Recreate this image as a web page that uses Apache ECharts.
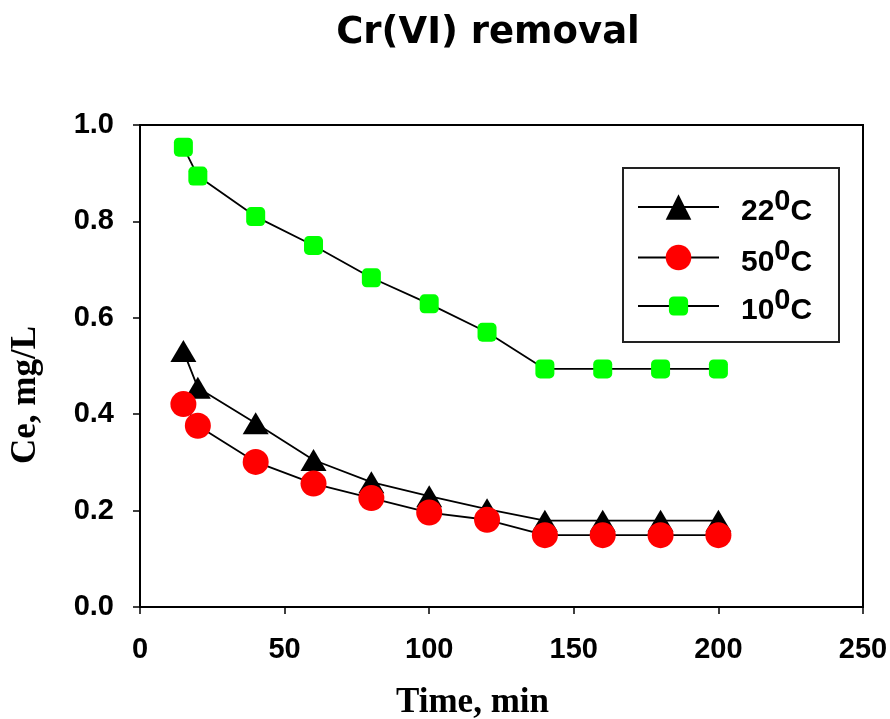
<!DOCTYPE html>
<html>
<head>
<meta charset="utf-8">
<script src="https://cdn.jsdelivr.net/npm/echarts@6/dist/echarts.min.js"></script>
<style>
  html, body { margin: 0; padding: 0; background: #fff; }
  #chart { width: 890px; height: 719px; }
</style>
</head>
<body>
<div id="chart"></div>
<script>
// Contact time (min)
const time = [15, 20, 40, 60, 80, 100, 120, 140, 160, 180, 200];
// Residual Cr(VI) concentration Ce (mg/L) at each temperature
const ce22 = [0.531, 0.455, 0.381, 0.305, 0.259, 0.230, 0.203, 0.179, 0.179, 0.179, 0.179];
const ce50 = [0.421, 0.376, 0.301, 0.256, 0.226, 0.196, 0.181, 0.149, 0.149, 0.149, 0.149];
const ce10 = [0.954, 0.894, 0.810, 0.750, 0.683, 0.629, 0.570, 0.494, 0.494, 0.494, 0.494];
// Temperatures shown in the legend
const temps = ['22', '50', '10'];

const names = temps.map(t => t + '\u2070C');
const pairs = ys => time.map((t, i) => [t, ys[i]]);

const legendText = {
  fontFamily: 'Liberation Sans',
  fontWeight: 'bold',
  color: '#000',
  lineHeight: 40,
  rich: {
    g: { fontFamily: 'Liberation Sans', fontWeight: 'bold', fontSize: 30, lineHeight: 28, verticalAlign: 'bottom', padding: [0, 0, 0, 17], color: '#000' },
    n: { fontFamily: 'Liberation Sans', fontWeight: 'bold', fontSize: 30, lineHeight: 28, verticalAlign: 'bottom', color: '#000' },
    s: { fontFamily: 'Liberation Sans', fontWeight: 'bold', fontSize: 29, lineHeight: 34, verticalAlign: 'top', color: '#000' },
    e: { fontSize: 10, lineHeight: 40 }
  }
};
const legendFormatter = name => {
  const t = name.replace('\u2070C', '');
  return '{g|' + t + '}{s|0}{n|C}{e| }';
};

const lineStyle = { color: '#000', width: 1.8 };

const chart = echarts.init(document.getElementById('chart'), null, { renderer: 'canvas' });
chart.setOption({
  backgroundColor: '#fff',
  animation: false,
  title: {
    text: 'Cr(VI) removal',
    left: 483,
    top: 10,
    textAlign: 'center',
    textStyle: { fontFamily: 'DejaVu Sans', fontWeight: 'bold', fontSize: 37, color: '#000' }
  },
  grid: {
    left: 140, top: 125, right: 27, bottom: 112,
    outerBoundsMode: 'none',
    containLabel: false,
    show: true, borderColor: '#000', borderWidth: 2, backgroundColor: 'transparent'
  },
  legend: [
    {
      data: [names[0], names[1]],
      orient: 'vertical',
      left: 637, top: 187, padding: 0,
      itemWidth: 81, itemHeight: 32, itemGap: 10.5,
      formatter: legendFormatter,
      textStyle: legendText,
      selectedMode: false
    },
    {
      data: [names[2]],
      orient: 'vertical',
      left: 637, top: 286, padding: 0,
      itemWidth: 81, itemHeight: 24,
      formatter: legendFormatter,
      textStyle: legendText,
      selectedMode: false
    }
  ],
  graphic: [{
    type: 'rect',
    shape: { x: 623, y: 168, width: 216, height: 174 },
    style: { fill: 'none', stroke: '#222', lineWidth: 2 },
    z: 10
  }],
  xAxis: {
    type: 'value',
    min: 0, max: 250, interval: 50,
    name: 'Time, min',
    nameLocation: 'middle',
    nameGap: 78,
    nameTextStyle: { fontFamily: 'Liberation Serif', fontWeight: 'bold', fontSize: 35, color: '#000', padding: [0, 58, 0, 0] },
    axisLine: { show: true, lineStyle: { color: '#000', width: 2 } },
    axisTick: { show: true, length: 7, inside: false, lineStyle: { color: '#000', width: 1.5 } },
    axisLabel: { margin: 28, fontFamily: 'Liberation Sans', fontWeight: 'bold', fontSize: 29, color: '#000' },
    splitLine: { show: false }
  },
  yAxis: {
    type: 'value',
    min: 0, max: 1, interval: 0.2,
    name: 'Ce, mg/L',
    nameLocation: 'middle',
    nameGap: 97,
    nameRotate: 90,
    nameTextStyle: { fontFamily: 'Liberation Serif', fontWeight: 'bold', fontSize: 35, color: '#000', padding: [0, 58, 0, 0] },
    axisLine: { show: true, lineStyle: { color: '#000', width: 2 } },
    axisTick: { show: true, length: 7, inside: false, lineStyle: { color: '#000', width: 1.5 } },
    axisLabel: { margin: 26, fontFamily: 'Liberation Sans', fontWeight: 'bold', fontSize: 29, color: '#000', formatter: v => v.toFixed(1) },
    splitLine: { show: false }
  },
  series: [
    {
      name: names[0], type: 'line', data: pairs(ce22),
      symbol: 'triangle', symbolSize: [26, 22],
      itemStyle: { color: '#000' }, lineStyle: lineStyle
    },
    {
      name: names[1], type: 'line', data: pairs(ce50),
      symbol: 'circle', symbolSize: 26,
      itemStyle: { color: '#ff0000' }, lineStyle: lineStyle
    },
    {
      name: names[2], type: 'line', data: pairs(ce10),
      symbol: 'roundRect', symbolSize: 19,
      itemStyle: { color: '#00ff00' }, lineStyle: lineStyle
    }
  ]
});
</script>
</body>
</html>
